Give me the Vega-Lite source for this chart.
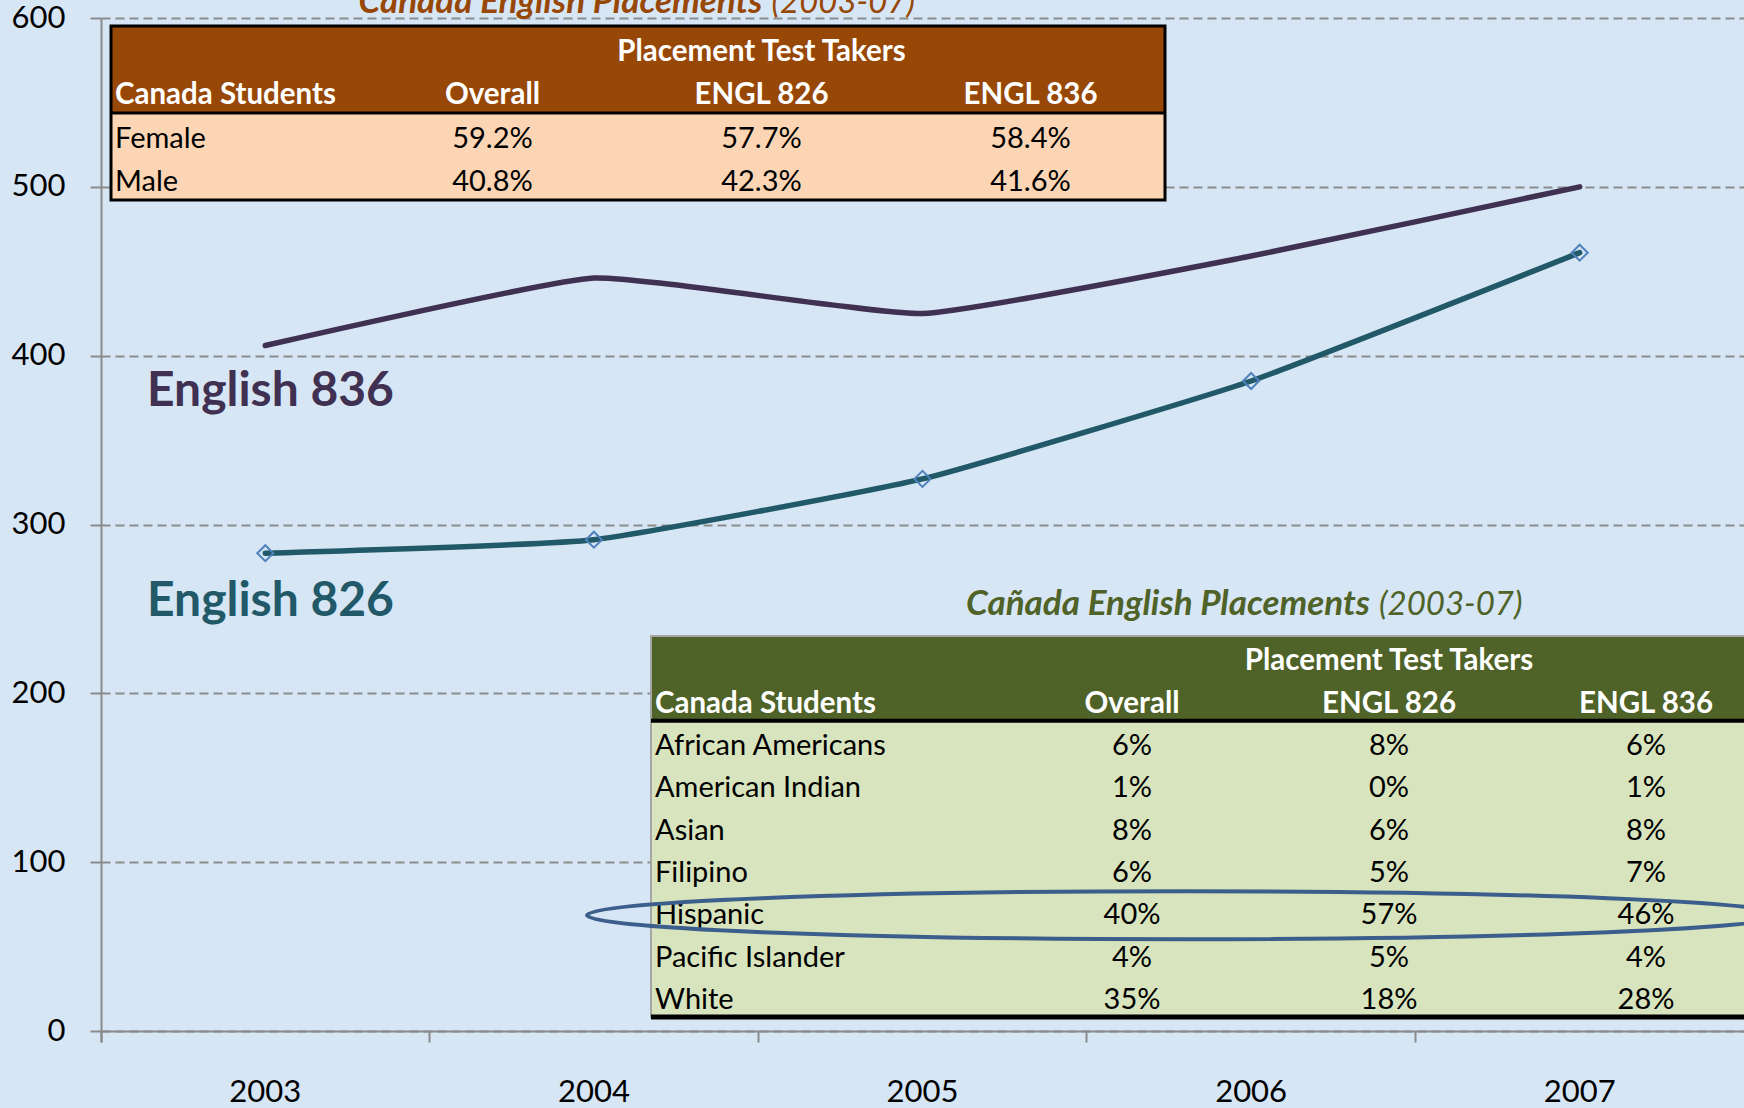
{
  "$schema": "https://vega.github.io/schema/vega-lite/v6.json",
  "width": 1643,
  "height": 1013,
  "autosize": {"type": "none"},
  "padding": {"left": 101, "top": 18, "right": 0, "bottom": 77},
  "background": "#d7e6f5",
  "config": {"view": {"stroke": null}, "font": "Lato", "text": {"font": "Lato"}},
  "datasets": {
    "lines": [
      {"year": "2003", "course": "English 836", "students": 406},
      {"year": "2004", "course": "English 836", "students": 446},
      {"year": "2005", "course": "English 836", "students": 425},
      {"year": "2006", "course": "English 836", "students": 459},
      {"year": "2007", "course": "English 836", "students": 500},
      {"year": "2003", "course": "English 826", "students": 283},
      {"year": "2004", "course": "English 826", "students": 291},
      {"year": "2005", "course": "English 826", "students": 327},
      {"year": "2006", "course": "English 826", "students": 385},
      {"year": "2007", "course": "English 826", "students": 461}
    ],
    "lineLabels": [
      {"year": "2003", "course": "English 836", "students": 370},
      {"year": "2003", "course": "English 826", "students": 246}
    ],
    "titles": [
      {"table": "top", "lead": "Cañada English Placements", "years": "(2003-07)"},
      {"table": "bottom", "lead": "Cañada English Placements", "years": "(2003-07)"}
    ],
    "topTable": [
      {"row": "super", "col": "Canada Students", "text": ""},
      {"row": "super", "col": "ENGL 826", "text": "Placement Test Takers"},
      {"row": "header", "col": "Canada Students", "text": "Canada Students"},
      {"row": "header", "col": "Overall", "text": "Overall"},
      {"row": "header", "col": "ENGL 826", "text": "ENGL 826"},
      {"row": "header", "col": "ENGL 836", "text": "ENGL 836"},
      {"row": "Female", "col": "Canada Students", "text": "Female"},
      {"row": "Female", "col": "Overall", "text": "59.2%"},
      {"row": "Female", "col": "ENGL 826", "text": "57.7%"},
      {"row": "Female", "col": "ENGL 836", "text": "58.4%"},
      {"row": "Male", "col": "Canada Students", "text": "Male"},
      {"row": "Male", "col": "Overall", "text": "40.8%"},
      {"row": "Male", "col": "ENGL 826", "text": "42.3%"},
      {"row": "Male", "col": "ENGL 836", "text": "41.6%"}
    ],
    "bottomTable": [
      {"row": "super", "col": "Canada Students", "text": ""},
      {"row": "super", "col": "ENGL 826", "text": "Placement Test Takers"},
      {"row": "header", "col": "Canada Students", "text": "Canada Students"},
      {"row": "header", "col": "Overall", "text": "Overall"},
      {"row": "header", "col": "ENGL 826", "text": "ENGL 826"},
      {"row": "header", "col": "ENGL 836", "text": "ENGL 836"},
      {"row": "African Americans", "col": "Canada Students", "text": "African Americans"},
      {"row": "African Americans", "col": "Overall", "text": "6%"},
      {"row": "African Americans", "col": "ENGL 826", "text": "8%"},
      {"row": "African Americans", "col": "ENGL 836", "text": "6%"},
      {"row": "American Indian", "col": "Canada Students", "text": "American Indian"},
      {"row": "American Indian", "col": "Overall", "text": "1%"},
      {"row": "American Indian", "col": "ENGL 826", "text": "0%"},
      {"row": "American Indian", "col": "ENGL 836", "text": "1%"},
      {"row": "Asian", "col": "Canada Students", "text": "Asian"},
      {"row": "Asian", "col": "Overall", "text": "8%"},
      {"row": "Asian", "col": "ENGL 826", "text": "6%"},
      {"row": "Asian", "col": "ENGL 836", "text": "8%"},
      {"row": "Filipino", "col": "Canada Students", "text": "Filipino"},
      {"row": "Filipino", "col": "Overall", "text": "6%"},
      {"row": "Filipino", "col": "ENGL 826", "text": "5%"},
      {"row": "Filipino", "col": "ENGL 836", "text": "7%"},
      {"row": "Hispanic", "col": "Canada Students", "text": "Hispanic"},
      {"row": "Hispanic", "col": "Overall", "text": "40%"},
      {"row": "Hispanic", "col": "ENGL 826", "text": "57%"},
      {"row": "Hispanic", "col": "ENGL 836", "text": "46%"},
      {"row": "Pacific Islander", "col": "Canada Students", "text": "Pacific Islander"},
      {"row": "Pacific Islander", "col": "Overall", "text": "4%"},
      {"row": "Pacific Islander", "col": "ENGL 826", "text": "5%"},
      {"row": "Pacific Islander", "col": "ENGL 836", "text": "4%"},
      {"row": "White", "col": "Canada Students", "text": "White"},
      {"row": "White", "col": "Overall", "text": "35%"},
      {"row": "White", "col": "ENGL 826", "text": "18%"},
      {"row": "White", "col": "ENGL 836", "text": "28%"}
    ],
    "highlight": [{"row": "Hispanic", "col": "Overall"}]
  },
  "layer": [
    {
      "layer": [
        {
          "data": {"name": "lines"},
          "mark": {"type": "line", "interpolate": "cardinal", "tension": 0.6, "strokeWidth": 5.5, "strokeCap": "round"},
          "encoding": {
            "x": {
              "field": "year", "type": "ordinal", "bandPosition": 0.5,
              "scale": {"type": "band", "domain": ["2003", "2004", "2005", "2006", "2007"], "paddingInner": 0, "paddingOuter": 0},
              "axis": {
                "title": null, "bandPosition": 0, "tickExtra": true, "grid": false,
                "domainColor": "#8a8a8a", "domainWidth": 2, "tickColor": "#8a8a8a", "tickWidth": 2, "tickSize": 11,
                "labelFont": "Lato", "labelFontSize": 31, "labelColor": "#000000", "labelPadding": 35, "labelAngle": 0
              }
            },
            "y": {
              "field": "students", "type": "quantitative",
              "scale": {"domain": [0, 600], "nice": false, "zero": true},
              "axis": {
                "title": null, "values": [0, 100, 200, 300, 400, 500, 600], "grid": true,
                "gridDash": [9, 5], "gridColor": "#8c8c8c", "gridWidth": 2,
                "domainColor": "#8a8a8a", "domainWidth": 2, "tickColor": "#8a8a8a", "tickWidth": 2, "tickSize": 11,
                "labelFont": "Lato", "labelFontSize": 31, "labelColor": "#000000", "labelPadding": 25
              }
            },
            "color": {
              "field": "course", "type": "nominal",
              "scale": {"domain": ["English 836", "English 826"], "range": ["#403152", "#215968"]},
              "legend": null
            }
          }
        },
        {
          "data": {"name": "lines"},
          "transform": [{"filter": "datum.course === 'English 826'"}],
          "mark": {"type": "point", "shape": "diamond", "size": 256, "filled": false, "stroke": "#4f81bd", "strokeWidth": 2, "opacity": 1},
          "encoding": {
            "x": {"field": "year", "type": "ordinal", "bandPosition": 0.5},
            "y": {"field": "students", "type": "quantitative"}
          }
        },
        {
          "data": {"name": "lineLabels"},
          "mark": {"type": "text", "align": "left", "baseline": "alphabetic", "fontSize": 48, "fontWeight": "bold", "dx": 46},
          "encoding": {
            "x": {"field": "year", "type": "ordinal", "bandPosition": 0},
            "y": {"field": "students", "type": "quantitative"},
            "text": {"field": "course"},
            "color": {"field": "course", "type": "nominal"}
          }
        }
      ]
    },
    {
      "layer": [
        {
          "data": {"name": "topTable"},
          "transform": [{"filter": "datum.col === 'Canada Students'"}],
          "mark": {"type": "rect", "strokeWidth": 1.5},
          "encoding": {
            "x": {"datum": 0, "type": "quantitative", "scale": {"domain": [0, 1], "range": [10, 1064]}, "axis": null},
            "x2": {"datum": 1},
            "y": {"field": "row", "type": "ordinal", "scale": {"type": "band", "domain": ["super", "header", "Female", "Male"], "range": [8, 182], "paddingInner": 0, "paddingOuter": 0}, "axis": null},
            "fill": {"condition": {"test": "datum.row === 'super' || datum.row === 'header'", "value": "#974706"}, "value": "#fcd5b4"},
            "stroke": {"condition": {"test": "datum.row === 'super' || datum.row === 'header'", "value": "#974706"}, "value": "#fcd5b4"}
          }
        },
        {
          "data": {"values": [{}]},
          "mark": {"type": "rect", "fill": null, "stroke": "#000000", "strokeWidth": 3},
          "encoding": {
            "x": {"datum": 0, "type": "quantitative", "scale": {"domain": [0, 1], "range": [10, 1064]}, "axis": null},
            "x2": {"datum": 1},
            "y": {"datum": "super", "type": "ordinal", "bandPosition": 0, "scale": {"type": "band", "domain": ["super", "header", "Female", "Male"], "range": [8, 182], "paddingInner": 0, "paddingOuter": 0}, "axis": null},
            "y2": {"datum": "Male", "bandPosition": 1}
          }
        },
        {
          "data": {"values": [{}]},
          "mark": {"type": "rule", "stroke": "#000000", "strokeWidth": 3},
          "encoding": {
            "x": {"datum": 0, "type": "quantitative", "scale": {"domain": [0, 1], "range": [10, 1064]}, "axis": null},
            "x2": {"datum": 1},
            "y": {"datum": "Female", "type": "ordinal", "bandPosition": 0, "scale": {"type": "band", "domain": ["super", "header", "Female", "Male"], "range": [8, 182], "paddingInner": 0, "paddingOuter": 0}, "axis": null}
          }
        },
        {
          "data": {"name": "topTable"},
          "transform": [{"filter": "(datum.row === 'super' || datum.row === 'header') && datum.col !== 'Canada Students'"}],
          "mark": {"type": "text", "fontWeight": "bold", "fontSize": 29.5, "fill": "#ffffff", "baseline": "middle", "dy": 4},
          "encoding": {
            "x": {"field": "col", "type": "nominal", "bandPosition": 0.5, "scale": {"type": "band", "domain": ["Overall", "ENGL 826", "ENGL 836"], "range": [257, 1064], "paddingInner": 0, "paddingOuter": 0}, "axis": null},
            "y": {"field": "row", "type": "ordinal", "bandPosition": 0.5, "scale": {"type": "band", "domain": ["super", "header", "Female", "Male"], "range": [8, 182], "paddingInner": 0, "paddingOuter": 0}, "axis": null},
            "text": {"field": "text"}
          }
        },
        {
          "data": {"name": "topTable"},
          "transform": [{"filter": "datum.row === 'header' && datum.col === 'Canada Students'"}],
          "mark": {"type": "text", "fontWeight": "bold", "fontSize": 29.5, "fill": "#ffffff", "baseline": "middle", "align": "left", "dy": 4, "dx": 4},
          "encoding": {
            "x": {"datum": 0, "type": "quantitative", "scale": {"domain": [0, 1], "range": [10, 1064]}, "axis": null},
            "y": {"field": "row", "type": "ordinal", "bandPosition": 0.5, "scale": {"type": "band", "domain": ["super", "header", "Female", "Male"], "range": [8, 182], "paddingInner": 0, "paddingOuter": 0}, "axis": null},
            "text": {"field": "text"}
          }
        },
        {
          "data": {"name": "topTable"},
          "transform": [{"filter": "datum.row !== 'super' && datum.row !== 'header' && datum.col !== 'Canada Students'"}],
          "mark": {"type": "text", "fontSize": 29, "fill": "#000000", "baseline": "middle", "dy": 4},
          "encoding": {
            "x": {"field": "col", "type": "nominal", "bandPosition": 0.5, "scale": {"type": "band", "domain": ["Overall", "ENGL 826", "ENGL 836"], "range": [257, 1064], "paddingInner": 0, "paddingOuter": 0}, "axis": null},
            "y": {"field": "row", "type": "ordinal", "bandPosition": 0.5, "scale": {"type": "band", "domain": ["super", "header", "Female", "Male"], "range": [8, 182], "paddingInner": 0, "paddingOuter": 0}, "axis": null},
            "text": {"field": "text"}
          }
        },
        {
          "data": {"name": "topTable"},
          "transform": [{"filter": "datum.row !== 'super' && datum.row !== 'header' && datum.col === 'Canada Students'"}],
          "mark": {"type": "text", "fontSize": 29, "fill": "#000000", "baseline": "middle", "align": "left", "dy": 4, "dx": 4},
          "encoding": {
            "x": {"datum": 0, "type": "quantitative", "scale": {"domain": [0, 1], "range": [10, 1064]}, "axis": null},
            "y": {"field": "row", "type": "ordinal", "bandPosition": 0.5, "scale": {"type": "band", "domain": ["super", "header", "Female", "Male"], "range": [8, 182], "paddingInner": 0, "paddingOuter": 0}, "axis": null},
            "text": {"field": "text"}
          }
        },
        {
          "data": {"name": "titles"},
          "transform": [{"filter": "datum.table === 'top'"}],
          "mark": {"type": "text", "fontSize": 35, "fontWeight": "bold", "fontStyle": "italic", "fill": "#974706", "baseline": "alphabetic", "align": "right", "dx": 1, "dy": -35},
          "encoding": {
            "x": {"datum": "ENGL 826", "type": "nominal", "bandPosition": 0.5, "scale": {"type": "band", "domain": ["Overall", "ENGL 826", "ENGL 836"], "range": [257, 1064], "paddingInner": 0, "paddingOuter": 0}, "axis": null},
            "y": {"datum": "super", "type": "ordinal", "bandPosition": 0.5, "scale": {"type": "band", "domain": ["super", "header", "Female", "Male"], "range": [8, 182], "paddingInner": 0, "paddingOuter": 0}, "axis": null},
            "text": {"field": "lead"}
          }
        },
        {
          "data": {"name": "titles"},
          "transform": [{"filter": "datum.table === 'top'"}],
          "mark": {"type": "text", "fontSize": 33, "fontStyle": "italic", "fill": "#974706", "baseline": "alphabetic", "align": "left", "dx": 10, "dy": -35},
          "encoding": {
            "x": {"datum": "ENGL 826", "type": "nominal", "bandPosition": 0.5, "scale": {"type": "band", "domain": ["Overall", "ENGL 826", "ENGL 836"], "range": [257, 1064], "paddingInner": 0, "paddingOuter": 0}, "axis": null},
            "y": {"datum": "super", "type": "ordinal", "bandPosition": 0.5, "scale": {"type": "band", "domain": ["super", "header", "Female", "Male"], "range": [8, 182], "paddingInner": 0, "paddingOuter": 0}, "axis": null},
            "text": {"field": "years"}
          }
        }
      ],
      "resolve": {"scale": {"x": "independent"}}
    },
    {
      "layer": [
        {
          "data": {"name": "bottomTable"},
          "transform": [{"filter": "datum.col === 'Canada Students'"}],
          "mark": {"type": "rect", "strokeWidth": 1.5},
          "encoding": {
            "x": {"datum": 0, "type": "quantitative", "scale": {"domain": [0, 1], "range": [550, 1689]}, "axis": null},
            "x2": {"datum": 1},
            "y": {"field": "row", "type": "ordinal", "scale": {"type": "band", "domain": ["super", "header", "African Americans", "American Indian", "Asian", "Filipino", "Hispanic", "Pacific Islander", "White"], "range": [618, 999], "paddingInner": 0, "paddingOuter": 0}, "axis": null},
            "fill": {"condition": {"test": "datum.row === 'super' || datum.row === 'header'", "value": "#4f6228"}, "value": "#d7e4bd"},
            "stroke": {"condition": {"test": "datum.row === 'super' || datum.row === 'header'", "value": "#4f6228"}, "value": "#d7e4bd"}
          }
        },
        {
          "data": {"values": [{}]},
          "mark": {"type": "rect", "fill": null, "stroke": "#a6a6a6", "strokeWidth": 2},
          "encoding": {
            "x": {"datum": 0, "type": "quantitative", "scale": {"domain": [0, 1], "range": [550, 1689]}, "axis": null},
            "x2": {"datum": 1},
            "y": {"datum": "super", "type": "ordinal", "bandPosition": 0, "scale": {"type": "band", "domain": ["super", "header", "African Americans", "American Indian", "Asian", "Filipino", "Hispanic", "Pacific Islander", "White"], "range": [618, 999], "paddingInner": 0, "paddingOuter": 0}, "axis": null},
            "y2": {"datum": "White", "bandPosition": 1}
          }
        },
        {
          "data": {"values": [{}]},
          "mark": {"type": "rule", "stroke": "#000000", "strokeWidth": 4},
          "encoding": {
            "x": {"datum": 0, "type": "quantitative", "scale": {"domain": [0, 1], "range": [550, 1689]}, "axis": null},
            "x2": {"datum": 1},
            "y": {"datum": "African Americans", "type": "ordinal", "bandPosition": 0, "scale": {"type": "band", "domain": ["super", "header", "African Americans", "American Indian", "Asian", "Filipino", "Hispanic", "Pacific Islander", "White"], "range": [618, 999], "paddingInner": 0, "paddingOuter": 0}, "axis": null}
          }
        },
        {
          "data": {"values": [{}]},
          "mark": {"type": "rule", "stroke": "#000000", "strokeWidth": 5},
          "encoding": {
            "x": {"datum": 0, "type": "quantitative", "scale": {"domain": [0, 1], "range": [550, 1689]}, "axis": null},
            "x2": {"datum": 1},
            "y": {"datum": "White", "type": "ordinal", "bandPosition": 1, "scale": {"type": "band", "domain": ["super", "header", "African Americans", "American Indian", "Asian", "Filipino", "Hispanic", "Pacific Islander", "White"], "range": [618, 999], "paddingInner": 0, "paddingOuter": 0}, "axis": null}
          }
        },
        {
          "data": {"name": "bottomTable"},
          "transform": [{"filter": "(datum.row === 'super' || datum.row === 'header') && datum.col !== 'Canada Students'"}],
          "mark": {"type": "text", "fontWeight": "bold", "fontSize": 29.5, "fill": "#ffffff", "baseline": "middle", "dy": 4},
          "encoding": {
            "x": {"field": "col", "type": "nominal", "bandPosition": 0.5, "scale": {"type": "band", "domain": ["Overall", "ENGL 826", "ENGL 836"], "range": [902.5, 1673.5], "paddingInner": 0, "paddingOuter": 0}, "axis": null},
            "y": {"field": "row", "type": "ordinal", "bandPosition": 0.5, "scale": {"type": "band", "domain": ["super", "header", "African Americans", "American Indian", "Asian", "Filipino", "Hispanic", "Pacific Islander", "White"], "range": [618, 999], "paddingInner": 0, "paddingOuter": 0}, "axis": null},
            "text": {"field": "text"}
          }
        },
        {
          "data": {"name": "bottomTable"},
          "transform": [{"filter": "datum.row === 'header' && datum.col === 'Canada Students'"}],
          "mark": {"type": "text", "fontWeight": "bold", "fontSize": 29.5, "fill": "#ffffff", "baseline": "middle", "align": "left", "dy": 4, "dx": 4},
          "encoding": {
            "x": {"datum": 0, "type": "quantitative", "scale": {"domain": [0, 1], "range": [550, 1689]}, "axis": null},
            "y": {"field": "row", "type": "ordinal", "bandPosition": 0.5, "scale": {"type": "band", "domain": ["super", "header", "African Americans", "American Indian", "Asian", "Filipino", "Hispanic", "Pacific Islander", "White"], "range": [618, 999], "paddingInner": 0, "paddingOuter": 0}, "axis": null},
            "text": {"field": "text"}
          }
        },
        {
          "data": {"name": "bottomTable"},
          "transform": [{"filter": "datum.row !== 'super' && datum.row !== 'header' && datum.col !== 'Canada Students'"}],
          "mark": {"type": "text", "fontSize": 29, "fill": "#000000", "baseline": "middle", "dy": 4},
          "encoding": {
            "x": {"field": "col", "type": "nominal", "bandPosition": 0.5, "scale": {"type": "band", "domain": ["Overall", "ENGL 826", "ENGL 836"], "range": [902.5, 1673.5], "paddingInner": 0, "paddingOuter": 0}, "axis": null},
            "y": {"field": "row", "type": "ordinal", "bandPosition": 0.5, "scale": {"type": "band", "domain": ["super", "header", "African Americans", "American Indian", "Asian", "Filipino", "Hispanic", "Pacific Islander", "White"], "range": [618, 999], "paddingInner": 0, "paddingOuter": 0}, "axis": null},
            "text": {"field": "text"}
          }
        },
        {
          "data": {"name": "bottomTable"},
          "transform": [{"filter": "datum.row !== 'super' && datum.row !== 'header' && datum.col === 'Canada Students'"}],
          "mark": {"type": "text", "fontSize": 29, "fill": "#000000", "baseline": "middle", "align": "left", "dy": 4, "dx": 4},
          "encoding": {
            "x": {"datum": 0, "type": "quantitative", "scale": {"domain": [0, 1], "range": [550, 1689]}, "axis": null},
            "y": {"field": "row", "type": "ordinal", "bandPosition": 0.5, "scale": {"type": "band", "domain": ["super", "header", "African Americans", "American Indian", "Asian", "Filipino", "Hispanic", "Pacific Islander", "White"], "range": [618, 999], "paddingInner": 0, "paddingOuter": 0}, "axis": null},
            "text": {"field": "text"}
          }
        },
        {
          "data": {"name": "titles"},
          "transform": [{"filter": "datum.table === 'bottom'"}],
          "mark": {"type": "text", "fontSize": 35, "fontWeight": "bold", "fontStyle": "italic", "fill": "#4f6228", "baseline": "alphabetic", "align": "right", "dx": -19, "dy": -42},
          "encoding": {
            "x": {"datum": "ENGL 826", "type": "nominal", "bandPosition": 0.5, "scale": {"type": "band", "domain": ["Overall", "ENGL 826", "ENGL 836"], "range": [902.5, 1673.5], "paddingInner": 0, "paddingOuter": 0}, "axis": null},
            "y": {"datum": "super", "type": "ordinal", "bandPosition": 0.5, "scale": {"type": "band", "domain": ["super", "header", "African Americans", "American Indian", "Asian", "Filipino", "Hispanic", "Pacific Islander", "White"], "range": [618, 999], "paddingInner": 0, "paddingOuter": 0}, "axis": null},
            "text": {"field": "lead"}
          }
        },
        {
          "data": {"name": "titles"},
          "transform": [{"filter": "datum.table === 'bottom'"}],
          "mark": {"type": "text", "fontSize": 33, "fontStyle": "italic", "fill": "#4f6228", "baseline": "alphabetic", "align": "left", "dx": -10, "dy": -42},
          "encoding": {
            "x": {"datum": "ENGL 826", "type": "nominal", "bandPosition": 0.5, "scale": {"type": "band", "domain": ["Overall", "ENGL 826", "ENGL 836"], "range": [902.5, 1673.5], "paddingInner": 0, "paddingOuter": 0}, "axis": null},
            "y": {"datum": "super", "type": "ordinal", "bandPosition": 0.5, "scale": {"type": "band", "domain": ["super", "header", "African Americans", "American Indian", "Asian", "Filipino", "Hispanic", "Pacific Islander", "White"], "range": [618, 999], "paddingInner": 0, "paddingOuter": 0}, "axis": null},
            "text": {"field": "years"}
          }
        },
        {
          "data": {"name": "highlight"},
          "mark": {
            "type": "point", "filled": false, "opacity": 1, "stroke": "#3b5e8c", "strokeWidth": 4, "size": 1430416,
            "shape": "M1.0886,0.0067C1.0886,0.0289,0.6409,0.0468,0.0886,0.0468C-0.4637,0.0468,-0.9114,0.0289,-0.9114,0.0067C-0.9114,-0.0155,-0.4637,-0.0334,0.0886,-0.0334C0.6409,-0.0334,1.0886,-0.0155,1.0886,0.0067Z"
          },
          "encoding": {
            "x": {"field": "col", "type": "nominal", "bandPosition": 0.5, "scale": {"type": "band", "domain": ["Overall", "ENGL 826", "ENGL 836"], "range": [902.5, 1673.5], "paddingInner": 0, "paddingOuter": 0}, "axis": null},
            "y": {"field": "row", "type": "ordinal", "bandPosition": 0.5, "scale": {"type": "band", "domain": ["super", "header", "African Americans", "American Indian", "Asian", "Filipino", "Hispanic", "Pacific Islander", "White"], "range": [618, 999], "paddingInner": 0, "paddingOuter": 0}, "axis": null}
          }
        }
      ],
      "resolve": {"scale": {"x": "independent"}}
    }
  ],
  "resolve": {"scale": {"x": "independent", "y": "independent", "color": "independent"}}
}
